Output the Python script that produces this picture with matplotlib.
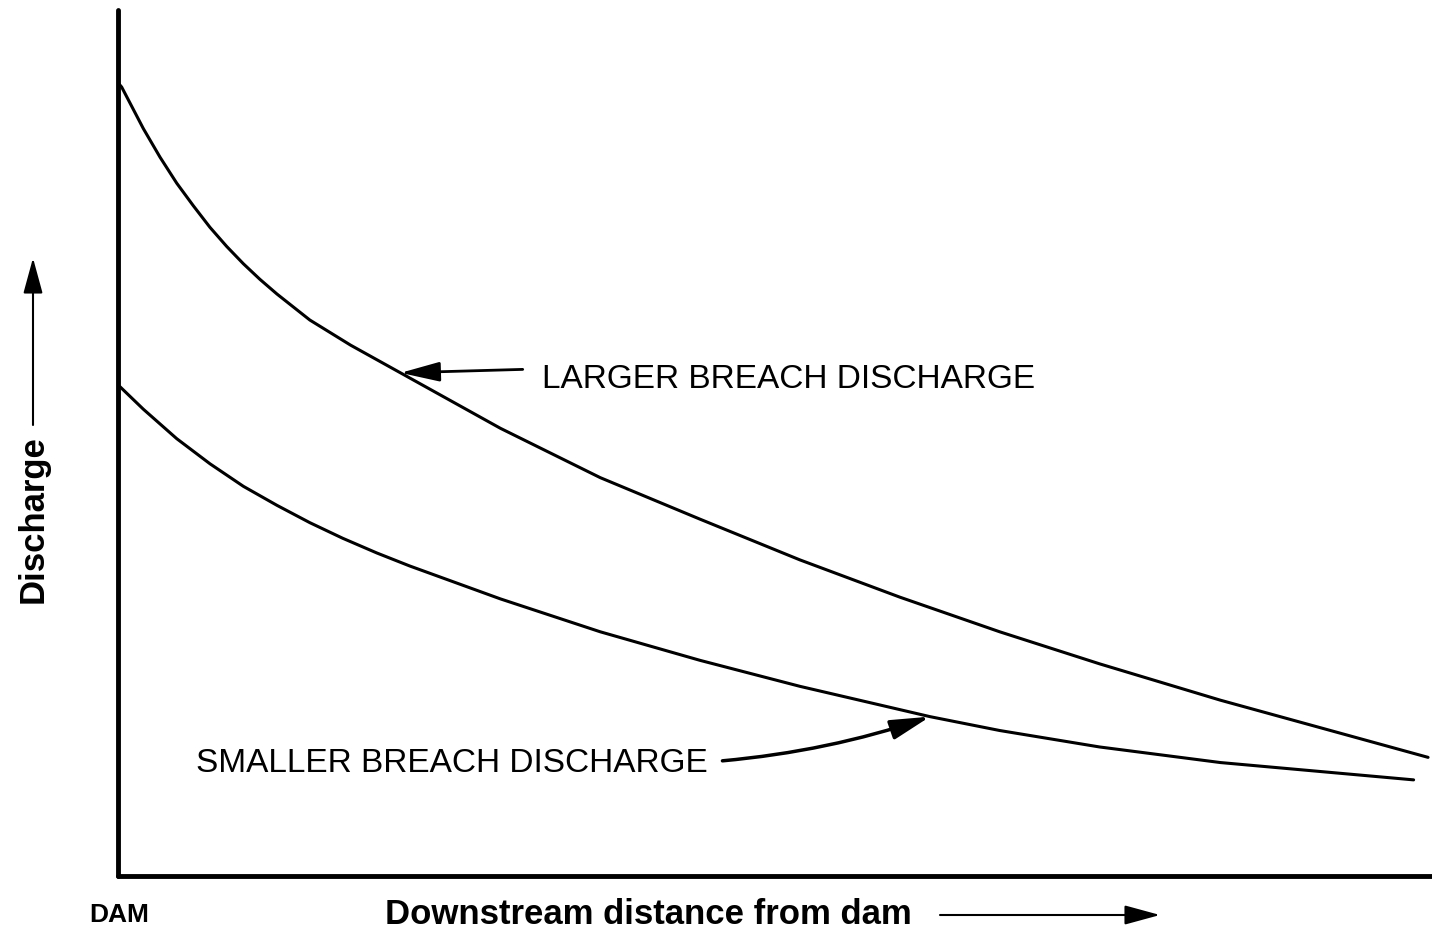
import matplotlib
matplotlib.use("Agg")
import matplotlib.pyplot as plt

plt.rcParams['font.family'] = ['Liberation Sans', 'DejaVu Sans']

# distance downstream (0 = dam) and discharge, arbitrary units
DIST_LARGE = [0.0, 0.28, 1.93, 3.20, 4.47, 5.73, 7.0, 8.27, 9.54, 10.8, 12.1, 14.6,
              17.7, 21.5, 29.1, 36.7, 44.3, 51.9, 59.5, 67.1, 74.7, 83.9, 99.7]
Q_LARGE = [91.6, 91.1, 86.3, 83.0, 80.0, 77.4, 74.9, 72.7, 70.7, 68.9, 67.2, 64.2,
           61.3, 58.1, 51.7, 46.0, 41.2, 36.5, 32.2, 28.2, 24.5, 20.3, 13.7]

DIST_SMALL = [0.0, 0.15, 1.93, 4.47, 7.0, 9.54, 12.1, 14.6, 17.1, 19.7, 22.2,
              29.1, 36.7, 44.3, 51.9, 61.8, 67.1, 74.7, 83.9, 98.6]
Q_SMALL = [56.6, 56.5, 53.9, 50.5, 47.6, 45.0, 42.8, 40.8, 39.0, 37.3, 35.8,
           32.0, 28.2, 24.9, 21.9, 18.4, 16.8, 14.9, 13.1, 11.1]

LABEL_LARGE = "LARGER BREACH DISCHARGE"
LABEL_SMALL = "SMALLER BREACH DISCHARGE"
IDX_LARGE = 13   # point the arrow touches
IDX_SMALL = 15

fig = plt.figure(figsize=(14.32, 9.34), dpi=100)
ax = fig.add_axes([118 / 1432, 58 / 934, 1314 / 1432, 866 / 934])

ax.plot(DIST_LARGE, Q_LARGE, color='black', lw=2.2, solid_capstyle='round',
        solid_joinstyle='round')
ax.plot(DIST_SMALL, Q_SMALL, color='black', lw=2.2, solid_capstyle='round',
        solid_joinstyle='round')

ax.set_xlim(0, 100)
ax.set_ylim(0, 100)
ax.set_xticks([])
ax.set_yticks([])
for s in ['top', 'right']:
    ax.spines[s].set_visible(False)
for s in ['left', 'bottom']:
    ax.spines[s].set_linewidth(3.5)
    ax.spines[s].set_capstyle('round')

# curve labels with arrows
ax.text(32.3, 57.3, LABEL_LARGE, fontsize=24, va='center', ha='left')
ax.annotate('', xy=(DIST_LARGE[IDX_LARGE], Q_LARGE[IDX_LARGE]), xytext=(30.8, 58.5),
            arrowprops=dict(arrowstyle='-|>,head_length=1.2,head_width=0.3',
                            mutation_scale=20, color='black', lw=2.0,
                            shrinkA=0, shrinkB=0))

ax.text(5.9, 13.0, LABEL_SMALL, fontsize=24, va='center', ha='left')
ax.annotate('', xy=(DIST_SMALL[IDX_SMALL], Q_SMALL[IDX_SMALL]), xytext=(46.0, 13.3),
            arrowprops=dict(arrowstyle='-|>,head_length=1.2,head_width=0.3',
                            mutation_scale=20, color='black', lw=2.5,
                            shrinkA=0, shrinkB=0,
                            connectionstyle='arc3,rad=0.06'))

# axis labels
fig.text(119 / 1432, 1 - 915 / 934, 'DAM', fontsize=19, fontweight='bold',
         ha='center', va='center')
fig.text(385 / 1432, 1 - 915 / 934, 'Downstream distance from dam', fontsize=25,
         fontweight='bold', ha='left', va='center')
fig.add_artist(matplotlib.patches.FancyArrowPatch(
    (940 / 1432, 1 - 915 / 934), (1160 / 1432, 1 - 915 / 934),
    transform=fig.transFigure, arrowstyle='-|>,head_length=1.1,head_width=0.3',
    mutation_scale=20, color='black', lw=1.5, shrinkA=0, shrinkB=0))

fig.text(33 / 1432, 1 - 519 / 934, 'Discharge', fontsize=25, fontweight='bold',
         rotation=90, ha='center', va='center')
fig.add_artist(matplotlib.patches.FancyArrowPatch(
    (33 / 1432, 1 - 425 / 934), (33 / 1432, 1 - 258 / 934),
    transform=fig.transFigure, arrowstyle='-|>,head_length=1.1,head_width=0.3',
    mutation_scale=20, color='black', lw=1.5, shrinkA=0, shrinkB=0))

fig.savefig('out.png', dpi=100)
